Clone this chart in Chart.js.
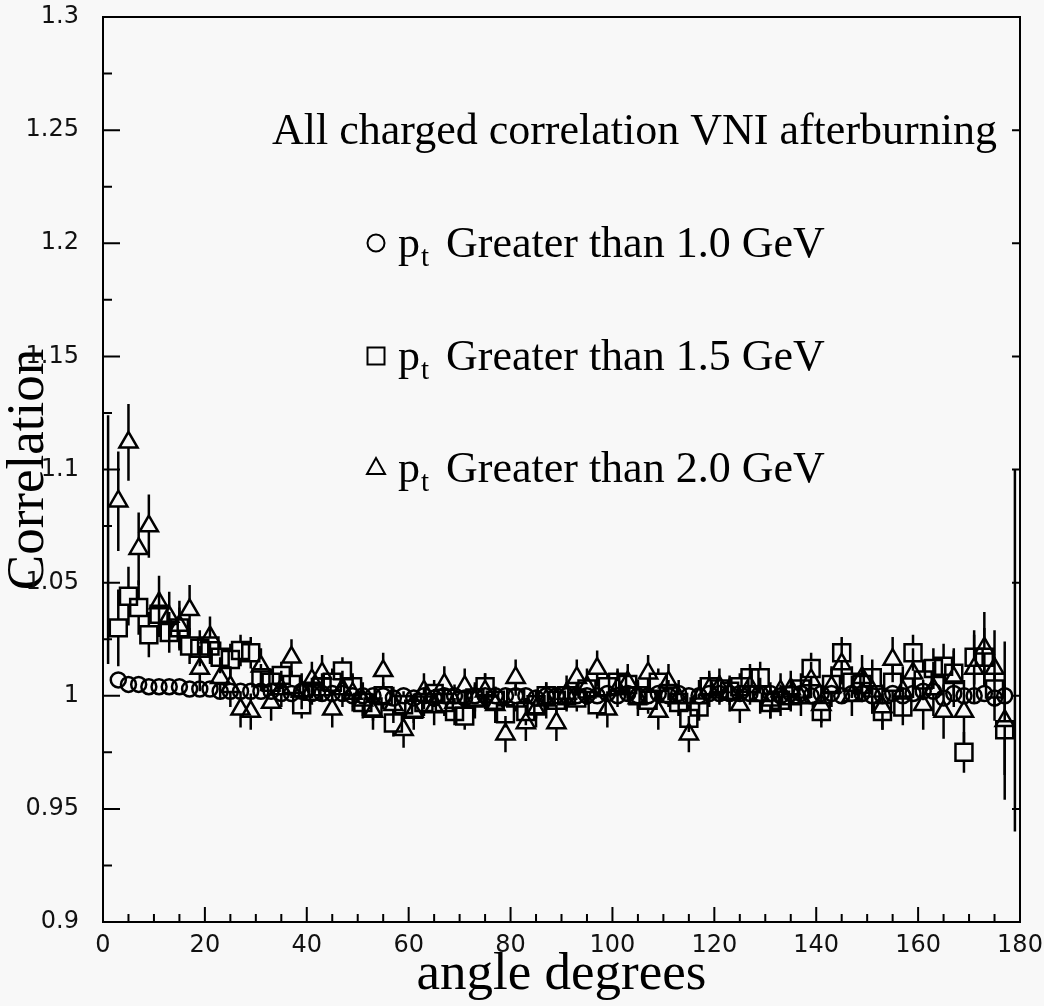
<!DOCTYPE html>
<html><head><meta charset="utf-8">
<script src="https://cdn.jsdelivr.net/npm/chart.js@4.4.1/dist/chart.umd.min.js"></script>
<style>html,body{margin:0;padding:0;background:#f8f8f8;}canvas{display:block}</style>
</head><body>
<canvas id="c" width="1044" height="1006"></canvas>
<script>
// ---------- data ----------
const bins = [3,5,7,9,11,13,15,17,19,21,23,25,27,29,31,33,35,37,39,41,43,45,47,49,51,53,55,57,59,61,63,65,67,69,71,73,75,77,79,81,83,85,87,89,91,93,95,97,99,101,103,105,107,109,111,113,115,117,119,121,123,125,127,129,131,133,135,137,139,141,143,145,147,149,151,153,155,157,159,161,163,165,167,169,171,173,175,177,179];

const circleValues = [
1.007,1.005,1.005,1.004,1.004,1.004,1.004,1.003,1.003,1.003,
1.002,1.002,1.002,1.002,1.002,1.002,1.001,1.001,1.002,1.001,
1.001,1.001,1.001,1.000,1.000,1.000,1.000,0.999,1.000,0.999,
1.000,0.999,1.000,1.000,0.999,1.000,1.000,1.000,1.000,1.000,
1.000,0.999,1.000,1.000,1.000,1.000,1.000,1.000,1.001,1.000,
1.001,1.000,1.000,1.001,1.000,1.001,1.000,1.000,1.001,1.001,
1.001,1.001,1.001,1.001,1.001,1.000,1.001,1.001,1.000,1.001,
1.001,1.000,1.001,1.001,1.000,1.000,1.001,1.000,1.001,1.002,
1.002,0.999,1.001,1.000,1.000,1.001,0.999,1.000,null];

const squareValues = [
1.030,1.044,1.039,1.027,1.036,1.028,1.030,1.022,1.021,1.022,
1.017,1.016,1.020,1.019,1.008,1.006,1.009,1.005,0.996,1.002,
1.004,1.006,1.011,1.004,0.997,0.995,1.000,0.988,0.996,0.994,
0.997,1.001,0.997,0.993,0.991,0.999,1.004,0.998,0.992,0.999,
0.993,0.996,1.000,0.998,1.000,0.999,1.003,0.996,1.004,1.006,
1.005,1.000,0.998,1.006,1.001,0.997,0.990,0.995,1.004,1.003,
1.002,1.004,1.008,1.008,0.997,0.998,1.000,1.003,1.012,0.993,
1.005,1.019,1.006,1.005,1.008,0.993,1.006,0.995,1.019,1.007,
1.012,1.013,1.010,0.975,1.017,1.017,1.003,0.985,null];

const squareErrors = [
0.017,0.013,0.012,0.010,0.010,0.009,0.009,0.008,0.008,0.008,
0.007,0.007,0.007,0.007,0.006,0.006,0.006,0.006,0.006,0.006,
0.006,0.006,0.006,0.006,0.006,0.006,0.006,0.006,0.006,0.006,
0.006,0.006,0.006,0.006,0.006,0.006,0.006,0.006,0.006,0.006,
0.006,0.006,0.006,0.006,0.006,0.006,0.006,0.006,0.006,0.006,
0.006,0.006,0.006,0.006,0.006,0.006,0.006,0.006,0.006,0.006,
0.006,0.006,0.006,0.007,0.007,0.007,0.007,0.007,0.007,0.007,
0.007,0.007,0.007,0.007,0.008,0.008,0.008,0.008,0.008,0.009,
0.009,0.010,0.010,0.009,0.012,0.013,0.014,0.020,null];

const triangleValues = [
1.086,1.112,1.065,1.075,1.041,1.035,1.031,1.038,1.012,1.026,
1.008,1.004,0.994,0.993,1.013,0.997,1.003,1.017,1.002,1.007,
1.010,0.994,1.003,1.001,0.998,0.993,1.011,0.996,0.985,0.993,
1.002,0.995,1.005,0.997,1.004,0.998,1.002,0.996,0.983,1.008,
0.988,0.994,0.998,0.988,1.001,1.008,1.004,1.012,0.994,1.003,
1.006,0.999,1.010,0.993,1.006,0.999,0.983,0.999,1.003,1.004,
1.001,0.996,1.004,1.000,0.998,1.002,1.003,0.999,1.007,0.996,
1.004,1.014,1.000,1.008,1.002,0.995,1.016,1.002,1.010,0.996,
1.003,0.993,1.008,0.993,1.012,1.021,1.012,0.989,null];

const triangleErrors = [
0.022,0.017,0.016,0.014,0.012,0.011,0.011,0.011,0.010,0.009,
0.009,0.009,0.008,0.008,0.008,0.008,0.008,0.008,0.008,0.008,
0.008,0.008,0.008,0.008,0.008,0.008,0.008,0.008,0.008,0.008,
0.008,0.008,0.008,0.008,0.008,0.008,0.008,0.008,0.008,0.008,
0.008,0.008,0.008,0.008,0.008,0.008,0.008,0.008,0.008,0.008,
0.008,0.008,0.008,0.008,0.008,0.008,0.008,0.008,0.008,0.008,
0.008,0.008,0.008,0.008,0.008,0.008,0.008,0.008,0.008,0.008,
0.009,0.009,0.009,0.010,0.010,0.010,0.010,0.011,0.011,0.011,
0.012,0.012,0.013,0.014,0.015,0.016,0.017,0.035,null];

// bins whose marker is off the drawn area: only the error bar is visible
const edgeBins = [1,179];
const edgeValues = [1.069,1.020];
const edgeErrors = [0.055,0.080];

const xTickLabels = ['0','20','40','60','80','100','120','140','160','180'];
const yTickLabels = ['0.9','0.95','1','1.05','1.1','1.15','1.2','1.25','1.3'];
const legendTitle = 'All charged correlation VNI afterburning';
const seriesLabels = ['Greater than 1.0 GeV','Greater than 1.5 GeV','Greater than 2.0 GeV'];

// ---------- build ----------
const pts = (xs, vs, es) => xs.map((b,i)=>({x:b, y:vs[i], e: es ? es[i] : 0}));
const INK = '#000';

const errorBars = {
  id:'errorBars',
  beforeDatasetsDraw(chart){
    const {ctx, chartArea:a, scales:{x,y}} = chart;
    ctx.save();
    ctx.beginPath(); ctx.rect(a.left, a.top, a.right-a.left, a.bottom-a.top); ctx.clip();
    ctx.strokeStyle = INK; ctx.lineWidth = 2.5;
    chart.data.datasets.forEach(ds=>{
      const r = ds.pointRadius;
      let up = r, dn = r;
      if (ds.pointStyle==='rect'){ up = dn = r*Math.SQRT1_2; }
      if (ds.pointStyle==='triangle'){ up = r; dn = r/2; }
      if (!r){ up = dn = 0; }
      ds.data.forEach(p=>{
        if (p.y==null || !p.e) return;
        const px = x.getPixelForValue(p.x);
        const py = y.getPixelForValue(p.y);
        const pt = y.getPixelForValue(p.y + p.e);
        const pb = y.getPixelForValue(p.y - p.e);
        ctx.beginPath();
        if (pt < py - up){ ctx.moveTo(px, pt); ctx.lineTo(px, py - up); }
        if (pb > py + dn){ ctx.moveTo(px, py + dn); ctx.lineTo(px, pb); }
        ctx.stroke();
      });
    });
    ctx.restore();
  }
};

const frameAndLegend = {
  id:'frameAndLegend',
  afterDraw(chart){
    const {ctx, chartArea:a, scales:{x,y}} = chart;
    ctx.save();
    ctx.strokeStyle = INK; ctx.lineWidth = 2;
    ctx.strokeRect(a.left, a.top, a.right-a.left, a.bottom-a.top);
    ctx.beginPath();
    for (let v=0; v<=180; v+=5){
      const px = x.getPixelForValue(v);
      const len = (v%20===0) ? 15 : 8;
      ctx.moveTo(px, a.bottom); ctx.lineTo(px, a.bottom-len);
    }
    for (let k=0; k<=16; k++){
      const py = y.getPixelForValue(0.9 + k*0.025);
      const len = (k%2===0) ? 17 : 9;
      ctx.moveTo(a.left, py); ctx.lineTo(a.left+len, py);
      if (k%2===0){ ctx.moveTo(a.right, py); ctx.lineTo(a.right-8, py); }
    }
    ctx.stroke();

    // legend block
    ctx.fillStyle = INK;
    ctx.textBaseline = 'alphabetic';
    ctx.font = '44px "Liberation Serif"';
    ctx.fillText(legendTitle, 272, 144);
    const rowsY = [243, 356, 468];
    const styles = ['circle','rect','triangle'];
    rowsY.forEach((cy,i)=>{
      const mx = 376;
      ctx.lineWidth = 2; ctx.strokeStyle = INK;
      ctx.beginPath();
      if (styles[i]==='circle'){ ctx.arc(mx, cy, 8.5, 0, Math.PI*2); }
      else if (styles[i]==='rect'){ ctx.rect(mx-8.5, cy-8.5, 17, 17); }
      else { ctx.moveTo(mx, cy-10); ctx.lineTo(mx+9, cy+6); ctx.lineTo(mx-9, cy+6); ctx.closePath(); }
      ctx.stroke();
      ctx.font = '44px "Liberation Serif"';
      ctx.fillText('p', 398, cy+14);
      ctx.font = '29px "Liberation Serif"';
      ctx.fillText('t', 421, cy+23);
      ctx.font = '44px "Liberation Serif"';
      ctx.fillText(seriesLabels[i], 446, cy+14);
    });
    ctx.restore();
  }
};

const noPad = s => { s.paddingTop = 0; s.paddingBottom = 0; s.paddingLeft = 0; s.paddingRight = 0; };

new Chart(document.getElementById('c'), {
  type:'scatter',
  data:{datasets:[
    {label:'pt > 1.0 GeV', data:pts(bins, circleValues, null), pointStyle:'circle', pointRadius:7.5, borderColor:INK, backgroundColor:'rgba(0,0,0,0)', pointBorderWidth:2.5},
    {label:'pt > 1.5 GeV', data:pts(bins, squareValues, squareErrors), pointStyle:'rect', pointRadius:12, borderColor:INK, backgroundColor:'rgba(0,0,0,0)', pointBorderWidth:2.5},
    {label:'pt > 2.0 GeV', data:pts(bins, triangleValues, triangleErrors), pointStyle:'triangle', pointRadius:10.5, borderColor:INK, backgroundColor:'rgba(0,0,0,0)', pointBorderWidth:2.5},
    {label:'edge', data:pts(edgeBins, edgeValues, edgeErrors), pointStyle:'circle', pointRadius:0, borderColor:INK, backgroundColor:'rgba(0,0,0,0)', pointBorderWidth:0}
  ]},
  options:{
    responsive:false, animation:false, devicePixelRatio:1,
    layout:{padding:{top:17, right:24, left:0, bottom:0}},
    plugins:{legend:{display:false}, tooltip:{enabled:false}},
    scales:{
      x:{type:'linear', min:0, max:180,
        afterFit:s=>{s.height = 84; noPad(s);},
        grid:{display:false, drawTicks:false}, border:{display:false},
        ticks:{stepSize:20, padding:9, color:'#111', maxRotation:0, autoSkip:false,
          font:{family:'DejaVu Sans', size:24}, callback:(v,i)=>xTickLabels[i]},
        title:{display:true, text:'angle degrees', color:INK,
          font:{family:'Liberation Serif', size:53, lineHeight:1}, padding:{top:0, bottom:4}}
      },
      y:{type:'linear', min:0.9, max:1.3,
        afterFit:s=>{s.width = 103; noPad(s);},
        grid:{display:false, drawTicks:false}, border:{display:false},
        ticks:{stepSize:0.05, padding:24, color:'#111', autoSkip:false,
          font:{family:'DejaVu Sans', size:24}, callback:(v,i)=>yTickLabels[i]},
        title:{display:true, text:'Correlation', color:INK,
          font:{family:'Liberation Serif', size:53, lineHeight:1}, padding:{top:3, bottom:0}}
      }
    }
  },
  plugins:[errorBars, frameAndLegend]
});
</script>
</body></html>
